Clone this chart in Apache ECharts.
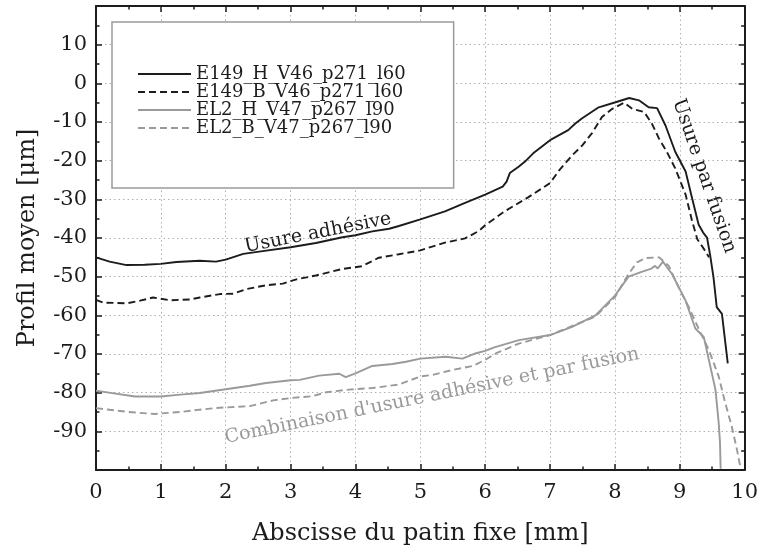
<!DOCTYPE html>
<html>
<head>
<meta charset="utf-8">
<script src="https://cdn.jsdelivr.net/npm/echarts@6/dist/echarts.min.js"></script>
<style>
  html, body { margin: 0; padding: 0; background: #fff; }
  #chart { width: 761px; height: 551px; }
</style>
</head>
<body>
<div id="chart"></div>
<script>
// Mean profile along the fixed pad, four measured specimens
const seriesNames = ['E149_H_V46_p271_l60', 'E149_B_V46_p271_l60', 'EL2_H_V47_p267_l90', 'EL2_B_V47_p267_l90'];

const e149hX = [0, 0.21, 0.47, 0.75, 1.0, 1.24, 1.6, 1.85, 2.0, 2.27, 2.57, 3.0, 3.39, 3.8, 4.0, 4.26, 4.52, 4.67, 5.0, 5.38, 5.69, 6.0, 6.27, 6.33, 6.38, 6.52, 6.61, 6.74, 6.87, 7.0, 7.14, 7.28, 7.39, 7.49, 7.75, 8.01, 8.22, 8.37, 8.52, 8.65, 8.78, 8.93, 9.09, 9.19, 9.29, 9.36, 9.42, 9.47, 9.52, 9.57, 9.65, 9.74];
const e149hY = [-45, -46.1, -47, -46.9, -46.7, -46.2, -45.9, -46.1, -45.6, -44.1, -43.4, -42.4, -41.3, -39.8, -39.3, -38.3, -37.6, -36.9, -35.2, -33.1, -30.9, -28.8, -26.7, -25.4, -23.2, -21.5, -20.3, -18.1, -16.4, -14.7, -13.4, -12.1, -10.4, -9.1, -6.2, -4.9, -3.8, -4.4, -6.2, -6.4, -10.9, -17.7, -22.8, -29.7, -36.5, -38.6, -39.9, -44.6, -50.2, -57.9, -59.6, -72.4];

const e149bX = [0, 0.11, 0.47, 0.68, 0.88, 1.14, 1.45, 1.6, 1.91, 2.12, 2.32, 2.63, 2.88, 3.09, 3.39, 3.8, 4.1, 4.36, 4.67, 5.0, 5.38, 5.69, 5.9, 6.0, 6.3, 6.66, 7.0, 7.14, 7.33, 7.5, 7.65, 7.8, 7.96, 8.14, 8.27, 8.45, 8.57, 8.68, 8.8, 8.93, 9.09, 9.19, 9.27, 9.39, 9.45];
const e149bY = [-56, -56.7, -56.9, -56.2, -55.4, -56.1, -55.9, -55.4, -54.5, -54.4, -53.2, -52.2, -51.8, -50.7, -49.7, -48, -47.3, -45.1, -44.2, -43.2, -41.2, -40.1, -38.2, -36.7, -33.1, -29.5, -25.8, -22.5, -18.8, -16, -12.8, -8.7, -6.6, -5.0, -6.6, -7.4, -10.4, -14.3, -17.7, -22, -28.8, -35.6, -40.3, -43.3, -45];

const el2hX = [0, 0.2, 0.6, 1.0, 1.3, 1.6, 2.0, 2.37, 2.62, 3.0, 3.14, 3.44, 3.75, 3.85, 4.0, 4.26, 4.57, 4.78, 5.0, 5.39, 5.65, 5.86, 6.0, 6.14, 6.52, 7.0, 7.34, 7.7, 8.0, 8.21, 8.39, 8.55, 8.62, 8.66, 8.74, 8.88, 9.09, 9.24, 9.37, 9.55, 9.6, 9.62, 9.63];
const el2hY = [-79.5, -80, -81, -81, -80.5, -80.1, -79.1, -78.2, -77.5, -76.8, -76.7, -75.6, -75.1, -76, -75, -73.1, -72.6, -72, -71.2, -70.7, -71.2, -69.8, -69.2, -68.3, -66.4, -65.1, -63, -60, -54.9, -50, -48.9, -48, -47.2, -47.9, -46.1, -49.3, -56.2, -63.4, -65.6, -79.2, -87.8, -92.9, -99.7];

const el2bX = [0, 0.5, 0.9, 1.3, 1.6, 1.9, 2.37, 2.73, 3.0, 3.34, 3.55, 3.9, 4.26, 4.67, 5.0, 5.19, 5.5, 5.81, 6.0, 6.17, 6.52, 7.0, 7.7, 8.0, 8.21, 8.34, 8.47, 8.68, 8.83, 8.98, 9.14, 9.3, 9.45, 9.6, 9.7, 9.8, 9.88, 9.93];
const el2bY = [-84, -85, -85.5, -85, -84.4, -83.9, -83.5, -82, -81.4, -80.9, -79.9, -79.2, -78.8, -77.9, -75.8, -75.4, -74.1, -73.1, -71.5, -69.8, -67.3, -65.1, -60.3, -55.3, -49.3, -46.3, -45.2, -45, -47.2, -52.7, -57.9, -63.8, -69, -75.8, -82.6, -88.6, -94.6, -98.9];

// Tick labels printed on the axes
const xTickLabels = ['0', '1', '2', '3', '4', '5', '6', '7', '8', '9', '10'];
const yTickLabels = ['-90', '-80', '-70', '-60', '-50', '-40', '-30', '-20', '-10', '0', '10'];

const xTitle = 'Abscisse du patin fixe [mm]';
const yTitle = 'Profil moyen [μm]';
const noteAdhesive = 'Usure adhésive';
const noteFusion = 'Usure par fusion';
const noteCombined = "Combinaison d'usure adhésive et par fusion";

const pairs = (xs, ys) => xs.map((x, i) => [x, ys[i]]);

const SERIF = '"DejaVu Serif", "Liberation Serif", serif';
const INK = '#1c1c1c';
const GREY = '#9a9a9a';

const chart = echarts.init(document.getElementById('chart'), null, { renderer: 'canvas' });

const frameAxis = {
  axisLine: { show: true, onZero: false, lineStyle: { color: INK, width: 2 } },
  axisTick: { show: true, inside: true, length: 6, lineStyle: { color: INK, width: 1.5 } },
  minorTick: { show: true, splitNumber: 2, length: 3.5, lineStyle: { color: INK, width: 1.5 } },
  minorSplitLine: { show: false }
};

function lineSeries(name, xs, ys, color, dashed) {
  return {
    name: name,
    type: 'line',
    xAxisIndex: 0,
    yAxisIndex: 0,
    data: pairs(xs, ys),
    showSymbol: false,
    symbol: 'none',
    clip: true,
    color: color,
    lineStyle: { color: color, width: 1.9, type: dashed ? [7, 4] : 'solid' },
    emphasis: { disabled: true },
    animation: false
  };
}

const option = {
  backgroundColor: '#fff',
  animation: false,
  grid: { left: 96, right: 14, top: 6, bottom: 78, containLabel: false },
  legend: {
    orient: 'vertical',
    left: 112,
    top: 22,
    padding: [43, 48, 51, 25],
    itemGap: 0,
    itemWidth: 53,
    itemHeight: 17,
    backgroundColor: '#fff',
    borderColor: '#9a9a9a',
    borderWidth: 1.5,
    borderRadius: 0,
    selectedMode: false,
    // only the line sample is shown next to each name
    itemStyle: { opacity: 0, borderWidth: 0 },
    textStyle: { fontFamily: SERIF, fontSize: 18, color: INK, lineHeight: 17 },
    data: seriesNames
  },
  xAxis: [
    Object.assign({}, frameAxis, {
      type: 'value', position: 'bottom', min: 0, max: 10, interval: 1,
      axisLabel: {
        show: true, margin: 12, color: INK, fontFamily: SERIF, fontSize: 21,
        formatter: v => xTickLabels.includes(String(v)) ? String(v) : ''
      },
      splitLine: { show: true, lineStyle: { color: '#b0b0b0', width: 1, type: [1.5, 3] } },
      name: xTitle, nameLocation: 'middle', nameGap: 52,
      nameTextStyle: { fontFamily: SERIF, fontSize: 24, color: INK }
    }),
    Object.assign({}, frameAxis, {
      type: 'value', position: 'top', min: 0, max: 10, interval: 1,
      axisLabel: { show: false }, splitLine: { show: false }
    })
  ],
  yAxis: [
    Object.assign({}, frameAxis, {
      type: 'value', position: 'left', min: -100, max: 20, interval: 10,
      axisLabel: {
        show: true, margin: 9, color: INK, fontFamily: SERIF, fontSize: 21,
        formatter: v => yTickLabels.includes(String(v)) ? String(v) : ''
      },
      splitLine: { show: true, lineStyle: { color: '#b0b0b0', width: 1, type: [1.5, 3] } },
      name: yTitle, nameLocation: 'middle', nameGap: 56,
      nameTextStyle: { fontFamily: SERIF, fontSize: 24, color: INK }
    }),
    Object.assign({}, frameAxis, {
      type: 'value', position: 'right', min: -100, max: 20, interval: 10,
      axisLabel: { show: false }, splitLine: { show: false }
    })
  ],
  series: [
    lineSeries(seriesNames[0], e149hX, e149hY, INK, false),
    lineSeries(seriesNames[1], e149bX, e149bY, INK, true),
    lineSeries(seriesNames[2], el2hX, el2hY, GREY, false),
    lineSeries(seriesNames[3], el2bX, el2bY, GREY, true)
  ],
  graphic: [
    {
      type: 'text', x: 318, y: 233, rotation: 11 * Math.PI / 180, silent: true,
      style: { text: noteAdhesive, font: '19px ' + SERIF, fill: INK, align: 'center', verticalAlign: 'middle' }
    },
    {
      type: 'text', x: 704, y: 176, rotation: -71 * Math.PI / 180, silent: true,
      style: { text: noteFusion, font: '19px ' + SERIF, fill: INK, align: 'center', verticalAlign: 'middle' }
    },
    {
      type: 'text', x: 432, y: 396, rotation: 11.5 * Math.PI / 180, silent: true,
      style: { text: noteCombined, font: '19px ' + SERIF, fill: GREY, align: 'center', verticalAlign: 'middle' }
    }
  ]
};

chart.setOption(option);
</script>
</body>
</html>
